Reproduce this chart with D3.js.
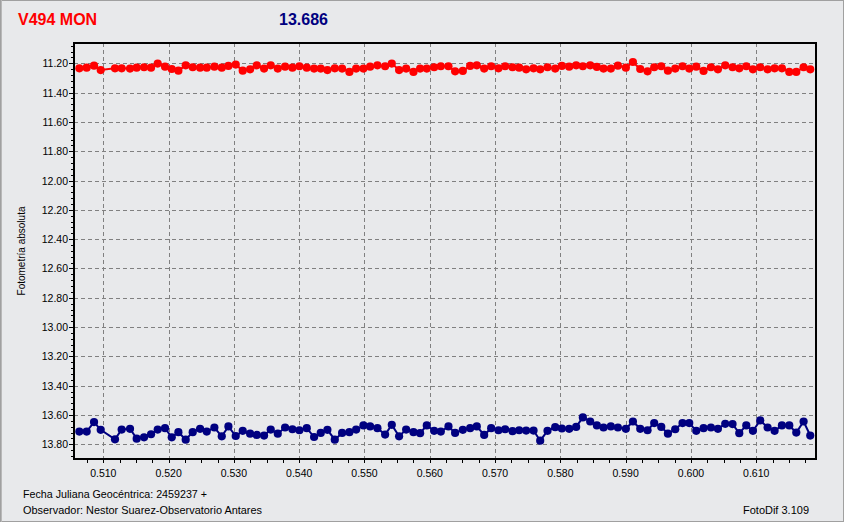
<!DOCTYPE html>
<html>
<head>
<meta charset="utf-8">
<script src="https://cdn.jsdelivr.net/npm/d3@7/dist/d3.min.js"></script>
<style>
  html, body { margin: 0; padding: 0; background: #e8e9eb; }
  svg { display: block; }
</style>
</head>
<body>
<svg id="chart" width="844" height="522"></svg>
<script>
// ---- Data ----
const title = "V494 MON";
const meanValue = "13.686";
const xLabel1 = "Fecha Juliana Geocéntrica: 2459237 +";
const xLabel2 = "Observador: Nestor Suarez-Observatorio Antares";
const software = "FotoDif 3.109";
const yTitle = "Fotometría absoluta";

const jd = [
  0.50633,0.50745,0.50858,0.50960,0.51179,0.51281,0.51409,0.51511,0.51624,0.51731,
  0.51833,0.51945,0.52048,0.52150,0.52262,0.52369,0.52482,0.52584,0.52701,0.52814,
  0.52916,0.53028,0.53135,0.53248,0.53350,0.53462,0.53564,0.53672,0.53784,0.53896,
  0.54003,0.54116,0.54228,0.54330,0.54432,0.54545,0.54657,0.54769,0.54872,0.54984,
  0.55086,0.55198,0.55316,0.55418,0.55530,0.55638,0.55750,0.55852,0.55954,0.56067,
  0.56169,0.56286,0.56388,0.56506,0.56618,0.56720,0.56833,0.56940,0.57052,0.57154,
  0.57267,0.57369,0.57476,0.57589,0.57691,0.57803,0.57921,0.58023,0.58135,0.58242,
  0.58344,0.58457,0.58559,0.58661,0.58773,0.58881,0.59003,0.59111,0.59223,0.59335,
  0.59437,0.59545,0.59647,0.59759,0.59871,0.59974,0.60081,0.60193,0.60306,0.60413,
  0.60525,0.60637,0.60740,0.60847,0.60949,0.61061,0.61174,0.61281,0.61393,0.61506,
  0.61613,0.61725,0.61827
];

const varMag = [
  11.234,11.230,11.216,11.246,11.234,11.234,11.236,11.230,11.227,11.230,
  11.202,11.223,11.239,11.250,11.214,11.227,11.230,11.230,11.223,11.230,
  11.218,11.209,11.250,11.241,11.214,11.236,11.214,11.236,11.223,11.230,
  11.220,11.230,11.236,11.236,11.246,
  11.234,11.236,11.259,11.236,11.236,11.223,11.214,11.220,11.202,11.246,
  11.236,11.259,11.236,11.236,11.227,11.220,11.220,11.255,11.252,11.218,
  11.214,11.236,11.220,11.234,11.220,11.227,11.230,11.241,11.234,11.241,
  11.227,11.236,11.218,11.223,11.214,
  11.220,11.214,11.225,11.236,11.236,11.216,11.230,11.191,11.239,11.255,
  11.227,11.220,11.250,11.236,11.220,11.236,11.223,11.252,11.227,11.241,
  11.214,11.227,11.234,11.220,11.241,11.227,11.241,11.234,11.234,11.259,
  11.259,11.227,11.241
];

const cmpMag = [
  13.713,13.713,13.648,13.701,13.766,13.699,13.694,13.761,13.752,13.731,
  13.699,13.690,13.752,13.717,13.768,13.717,13.694,13.713,13.685,13.745,
  13.678,13.743,13.708,13.727,13.736,13.740,13.699,13.727,13.685,13.697,
  13.704,13.690,13.750,13.722,13.701,
  13.768,13.722,13.717,13.699,13.671,13.678,13.690,13.733,13.667,13.745,
  13.699,13.717,13.724,13.671,13.708,13.713,13.678,13.722,13.701,13.690,
  13.678,13.736,13.690,13.704,13.697,13.710,13.704,13.706,13.706,13.775,
  13.708,13.683,13.692,13.694,13.681,
  13.616,13.644,13.671,13.685,13.678,13.685,13.694,13.644,13.694,13.704,
  13.655,13.681,13.727,13.697,13.655,13.655,13.708,13.690,13.685,13.694,
  13.660,13.662,13.724,13.671,13.708,13.637,13.685,13.708,13.671,13.671,
  13.720,13.644,13.740
];

const xTicks = [0.510,0.520,0.530,0.540,0.550,0.560,0.570,0.580,0.590,0.600,0.610];
const yTicks = [11.20,11.40,11.60,11.80,12.00,12.20,12.40,12.60,12.80,13.00,13.20,13.40,13.60,13.80];

// ---- Layout ----
const W = 844, H = 522;
const plot = { left: 74, right: 816, top: 43, bottom: 459 };

const svg = d3.select("#chart");

svg.append("rect").attr("x", 0.5).attr("y", 0.5).attr("width", W - 1).attr("height", H - 1)
  .attr("fill", "#e8e9eb").attr("stroke", "#a0a0a0").attr("stroke-width", 1);
svg.append("line").attr("x1", 1.5).attr("x2", 1.5).attr("y1", 0).attr("y2", H)
  .attr("stroke", "#b8b8b8");

const x = d3.scaleLinear().domain([0.50551, 0.61915]).range([plot.left, plot.right]);
const y = d3.scaleLinear().domain([11.0615, 13.90]).range([plot.top, plot.bottom]);

// Grid
const grid = svg.append("g").attr("stroke", "#808080").attr("stroke-width", 1)
  .attr("stroke-dasharray", "4,3").attr("shape-rendering", "crispEdges");
grid.selectAll("line.gx").data(xTicks).join("line")
  .attr("x1", d => Math.round(x(d)) + 0.5).attr("x2", d => Math.round(x(d)) + 0.5)
  .attr("y1", plot.top).attr("y2", plot.bottom);
grid.selectAll("line.gy").data(yTicks).join("line")
  .attr("y1", d => Math.round(y(d)) + 0.5).attr("y2", d => Math.round(y(d)) + 0.5)
  .attr("x1", plot.left).attr("x2", plot.right);

// Minor ticks
const xMinor = d3.range(0.5075, 0.6190, 0.0025);
const yMinor = d3.range(11.08, 13.90, 0.04);
const tk = svg.append("g").attr("stroke", "#000").attr("stroke-width", 1).attr("shape-rendering", "crispEdges");
tk.selectAll("line.xm").data(xMinor).join("line")
  .attr("x1", d => Math.round(x(d)) + 0.5).attr("x2", d => Math.round(x(d)) + 0.5)
  .attr("y1", plot.bottom).attr("y2", plot.bottom + 4);
tk.selectAll("line.ym").data(yMinor).join("line")
  .attr("y1", d => Math.round(y(d)) + 0.5).attr("y2", d => Math.round(y(d)) + 0.5)
  .attr("x1", plot.left - 3).attr("x2", plot.left);
tk.selectAll("line.ymaj").data(yTicks).join("line")
  .attr("y1", d => Math.round(y(d)) + 0.5).attr("y2", d => Math.round(y(d)) + 0.5)
  .attr("x1", plot.left - 5).attr("x2", plot.left);

// Axis labels
const labFont = "'Liberation Sans', Arial, sans-serif";
svg.append("g").selectAll("text").data(yTicks).join("text")
  .attr("x", 68).attr("y", d => y(d) + 4)
  .attr("text-anchor", "end").attr("font-family", labFont).attr("font-size", "10.5px")
  .attr("fill", "#000").text(d => d.toFixed(2));
svg.append("g").selectAll("text").data(xTicks).join("text")
  .attr("x", d => x(d)).attr("y", 477)
  .attr("text-anchor", "middle").attr("font-family", labFont).attr("font-size", "10.5px")
  .attr("fill", "#000").text(d => d.toFixed(3));

// Series
const g = svg.append("g");
svg.append("clipPath").attr("id", "clip").append("rect")
  .attr("x", plot.left).attr("y", plot.top).attr("width", plot.right - plot.left).attr("height", plot.bottom - plot.top);
g.attr("clip-path", "url(#clip)");

function drawSeries(vals, color) {
  const pts = jd.map((t, i) => [t, vals[i]]);
  const line = d3.line().x(d => x(d[0])).y(d => y(d[1]));
  g.append("path").datum(pts).attr("d", line).attr("fill", "none")
    .attr("stroke", color).attr("stroke-width", 2);
  g.append("g").selectAll("circle").data(pts).join("circle")
    .attr("cx", d => x(d[0])).attr("cy", d => y(d[1])).attr("r", 4.1)
    .attr("fill", color);
}
drawSeries(varMag, "#ff0000");
drawSeries(cmpMag, "#000080");

// Plot frame
svg.append("rect").attr("x", plot.left).attr("y", plot.top)
  .attr("width", plot.right - plot.left).attr("height", plot.bottom - plot.top)
  .attr("fill", "none").attr("stroke", "#000").attr("stroke-width", 2);

// Titles
svg.append("text").attr("x", 18).attr("y", 25).attr("font-family", labFont)
  .attr("font-size", "16px").attr("font-weight", "bold").attr("fill", "#ff0000").text(title);
svg.append("text").attr("x", 279).attr("y", 25).attr("font-family", labFont)
  .attr("font-size", "16px").attr("font-weight", "bold").attr("fill", "#000080").text(meanValue);

svg.append("text").attr("transform", "translate(25,251) rotate(-90)")
  .attr("text-anchor", "middle").attr("font-family", labFont).attr("font-size", "10px")
  .attr("fill", "#000").text(yTitle);

svg.append("text").attr("x", 23).attr("y", 498).attr("font-family", labFont)
  .attr("font-size", "10.5px").attr("fill", "#000")
  .attr("textLength", 184).attr("lengthAdjust", "spacingAndGlyphs").text(xLabel1);
svg.append("text").attr("x", 23).attr("y", 514).attr("font-family", labFont)
  .attr("font-size", "10.5px").attr("fill", "#000")
  .attr("textLength", 239).attr("lengthAdjust", "spacingAndGlyphs").text(xLabel2);
svg.append("text").attr("x", 743).attr("y", 514).attr("font-family", labFont)
  .attr("font-size", "10.5px").attr("fill", "#000")
  .attr("textLength", 66).attr("lengthAdjust", "spacingAndGlyphs").text(software);
</script>
</body>
</html>
